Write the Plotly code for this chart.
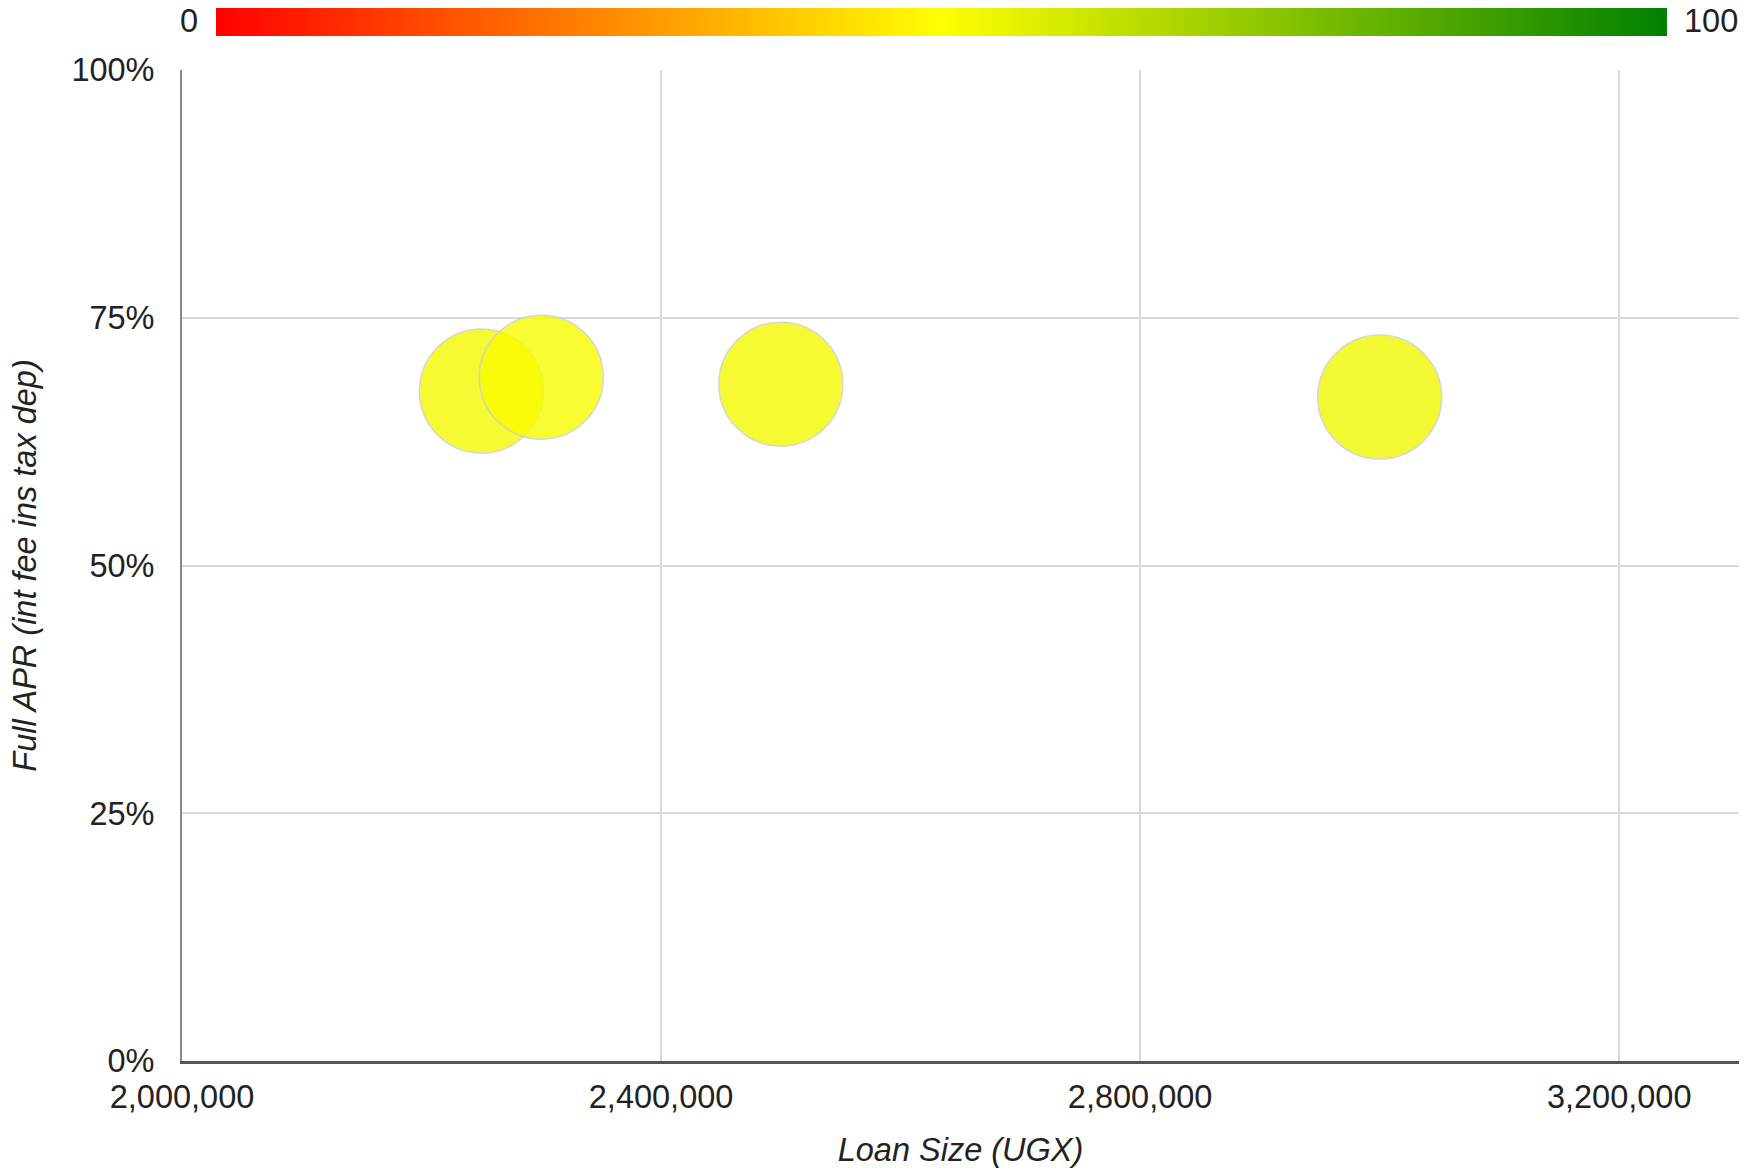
import plotly.graph_objects as go

# ---- data ----
loan_size = [2250000, 2300000, 2500000, 3000000]
full_apr = [0.676, 0.690, 0.683, 0.670]
bubble_size = [1, 1, 1, 1]
score = [52, 51, 52, 53]
score_min, score_max = 0, 100
x_ticks = [2000000, 2400000, 2800000, 3200000]
x_tick_labels = ["2,000,000", "2,400,000", "2,800,000", "3,200,000"]
y_ticks = [0, 0.25, 0.5, 0.75, 1.0]
y_tick_labels = ["0%", "25%", "50%", "75%", "100%"]
x_title = "Loan Size (UGX)"
y_title = "Full APR (int fee ins tax dep)"

W, H = 1759, 1168
FONT = "Liberation Sans, Arial, Helvetica, sans-serif"
TXT = "#222222"
FS = 32.5

fig = go.Figure()
fig.add_trace(go.Scatter(
    x=loan_size, y=full_apr, mode="markers",
    marker=dict(
        size=bubble_size, sizemode="diameter", sizeref=1 / 124,
        color=score, cmin=score_min, cmax=score_max,
        colorscale=[[0, "#ff0000"], [0.5, "#ffff00"], [1, "#008000"]],
        opacity=0.8,
        line=dict(color="#cccccc", width=1.5),
        showscale=True,
        colorbar=dict(
            orientation="h",
            xref="container", yref="container",
            x=244.5 / W, xanchor="left",
            y=1 - 8 / H, yanchor="top",
            lenmode="pixels", len=1451,
            thickness=28, thicknessmode="pixels",
            xpad=0, ypad=0, outlinewidth=0,
            showticklabels=False, ticks="",
        ),
    ),
    hoverinfo="x+y",
    showlegend=False,
))

PL, PR, PT, PB = 181.7, 1738.8, 69.6, 1061.2
for val, px in [(score_min, 189), (score_max, 1711)]:
    fig.add_annotation(text=str(val), xref="paper", yref="paper",
                       x=(px - PL) / (PR - PL), y=1 + (PT - 21) / (PB - PT),
                       xanchor="center", yanchor="middle", showarrow=False,
                       font=dict(family=FONT, size=FS, color=TXT))

fig.update_layout(
    width=W, height=H,
    margin=dict(l=PL, r=W - PR, t=PT, b=H - PB, autoexpand=False),
    paper_bgcolor="white", plot_bgcolor="white",
    font=dict(family=FONT, color=TXT),
)
fig.update_xaxes(
    range=[2000000, 3300000],
    tickvals=x_ticks, ticktext=x_tick_labels,
    showgrid=True, gridcolor="#d9d9d9", gridwidth=2,
    showline=True, linecolor="#555555", linewidth=2.5,
    zeroline=False, ticks="", automargin=False,
    tickfont=dict(family=FONT, size=FS, color=TXT),
    ticklabelstandoff=5,
    title=dict(text=x_title, standoff=29,
               font=dict(family=FONT, size=FS, color=TXT, style="italic")),
)
fig.update_yaxes(
    range=[0, 1],
    tickvals=y_ticks, ticktext=y_tick_labels,
    showgrid=True, gridcolor="#d9d9d9", gridwidth=2,
    showline=True, linecolor="#888888", linewidth=2,
    zeroline=False, ticks="", automargin=False,
    tickfont=dict(family=FONT, size=FS, color=TXT),
    ticklabelstandoff=19,
    title=dict(text=y_title, standoff=25,
               font=dict(family=FONT, size=FS, color=TXT, style="italic")),
)

fig.write_html("out.html")
